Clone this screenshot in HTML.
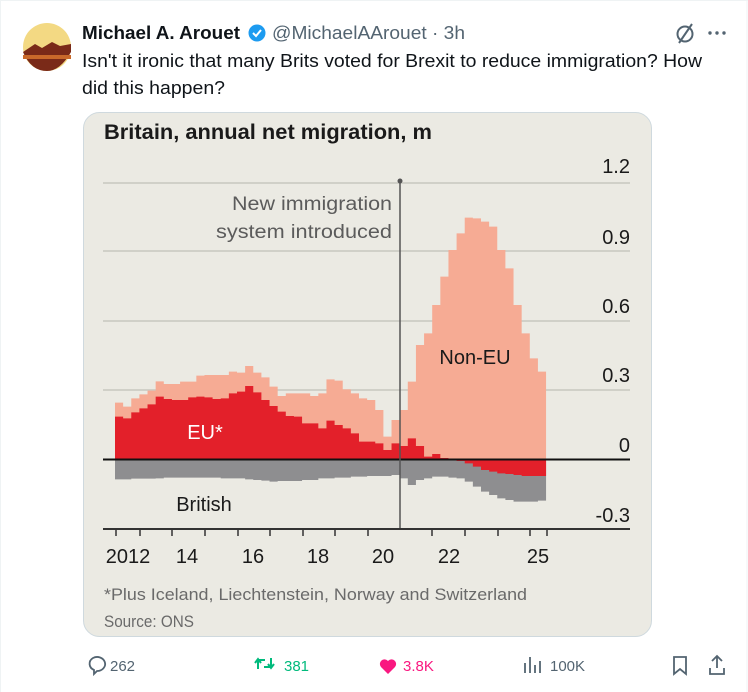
<!DOCTYPE html>
<html><head><meta charset="utf-8"><style>
body{margin:0;background:#fff;width:748px;height:692px;overflow:hidden;font-family:"Liberation Sans",sans-serif;}
</style></head><body>
<svg width="748" height="692" viewBox="0 0 748 692" xmlns="http://www.w3.org/2000/svg" style="position:absolute;left:0;top:0">
<line x1="0" y1="0.5" x2="748" y2="0.5" stroke="#eff3f4"/>
<line x1="747" y1="0" x2="747" y2="692" stroke="#eff3f4"/>
<line x1="0.5" y1="0" x2="0.5" y2="692" stroke="#eff3f4"/>
<circle cx="47" cy="47" r="24" fill="#f3d983"/>
<path d="M23 52 L35 44 L42 48 L52 42 L60 46 L71 44 L71 52 Q60 71 47 71 Q31 71 23 52Z" fill="#7a2a18"/>
<rect x="23" y="55" width="48" height="4" fill="#c9692a"/>
<text x="82" y="39" font-size="18" font-weight="bold" fill="#0f1419" textLength="158" lengthAdjust="spacingAndGlyphs">Michael A. Arouet</text>
<circle cx="257" cy="33" r="8.5" fill="#1d9bf0"/>
<path d="M253 33 l3 3 l5 -6" stroke="#fff" stroke-width="2" fill="none"/>
<text x="272" y="39" font-size="18" fill="#536471" textLength="193" lengthAdjust="spacingAndGlyphs">@MichaelAArouet · 3h</text>
<text x="82" y="67" font-size="18" fill="#0f1419" textLength="620" lengthAdjust="spacingAndGlyphs">Isn't it ironic that many Brits voted for Brexit to reduce immigration? How</text>
<text x="82" y="94" font-size="18" fill="#0f1419" textLength="143" lengthAdjust="spacingAndGlyphs">did this happen?</text>
<circle cx="685" cy="34" r="7.5" stroke="#536471" stroke-width="2" fill="none"/>
<line x1="679" y1="43" x2="692" y2="24" stroke="#536471" stroke-width="2"/>
<circle cx="710" cy="33" r="1.7" fill="#536471"/><circle cx="717" cy="33" r="1.7" fill="#536471"/><circle cx="724" cy="33" r="1.7" fill="#536471"/>
<rect x="83.5" y="112.5" width="568" height="524" rx="16" fill="#ebeae3" stroke="#cfd9de"/>
<text x="104" y="139" font-size="21" font-weight="bold" fill="#1a1a1a" textLength="328" lengthAdjust="spacingAndGlyphs">Britain, annual net migration, m</text>
<g stroke="#c8c7c0" stroke-width="1.5">
<line x1="103" y1="183" x2="630" y2="183"/>
<line x1="103" y1="251" x2="630" y2="251"/>
<line x1="103" y1="321" x2="630" y2="321"/>
<line x1="103" y1="390" x2="630" y2="390"/>
</g>
<g font-size="20" fill="#1a1a1a" text-anchor="end">
<text x="630" y="173">1.2</text>
<text x="630" y="244">0.9</text>
<text x="630" y="313">0.6</text>
<text x="630" y="382">0.3</text>
<text x="630" y="452">0</text>
<text x="630" y="522">-0.3</text>
</g>
<g transform="translate(100,180) scale(0.33333)">
<path fill="#f6ab94" d="M45 838 V668 h24.4 V680 h24.4 V655 h24.4 V643 h24.4 V632 h24.4 V604 h24.4 V612 h24.4 V612 h24.4 V605 h24.4 V605 h24.4 V587 h24.4 V585 h24.4 V585 h24.4 V585 h24.4 V575 h24.4 V578 h24.4 V558 h24.4 V578 h24.4 V592 h24.4 V620 h24.4 V648 h24.4 V640 h24.4 V640 h24.4 V640 h24.4 V648 h24.4 V640 h24.4 V598 h24.4 V602 h24.4 V628 h24.4 V640 h24.4 V655 h24.4 V660 h24.4 V690 h24.4 V770 h24.4 V720 h24.4 V690 h24.4 V605 h24.4 V495 h24.4 V460 h24.4 V375 h24.4 V290 h24.4 V210 h24.4 V160 h24.4 V113 h24.4 V115 h24.4 V125 h24.4 V140 h24.4 V210 h24.4 V265 h24.4 V375 h24.4 V460 h24.4 V535 h24.4 V575 h24.4 V838 Z"/>
<path fill="#e3202a" d="M45 838 V710 h24.4 V715 h24.4 V697 h24.4 V685 h24.4 V673 h24.4 V650 h24.4 V657 h24.4 V660 h24.4 V660 h24.4 V652 h24.4 V650 h24.4 V652 h24.4 V657 h24.4 V655 h24.4 V640 h24.4 V635 h24.4 V618 h24.4 V637 h24.4 V660 h24.4 V678 h24.4 V695 h24.4 V708 h24.4 V710 h24.4 V730 h24.4 V730 h24.4 V745 h24.4 V722 h24.4 V735 h24.4 V745 h24.4 V760 h24.4 V785 h24.4 V785 h24.4 V790 h24.4 V810 h24.4 V790 h24.4 V798 h24.4 V775 h24.4 V798 h24.4 V830 h24.4 V822 h24.4 V834 h24.4 V838 Z"/>
<path fill="#8e8e90" d="M45 838 V898 h24.4 V898 h24.4 V896 h24.4 V896 h24.4 V896 h24.4 V895 h24.4 V893 h24.4 V893 h24.4 V893 h24.4 V893 h24.4 V893 h24.4 V893 h24.4 V893 h24.4 V895 h24.4 V895 h24.4 V895 h24.4 V898 h24.4 V900 h24.4 V902 h24.4 V905 h24.4 V903 h24.4 V903 h24.4 V903 h24.4 V900 h24.4 V900 h24.4 V895 h24.4 V895 h24.4 V893 h24.4 V893 h24.4 V890 h24.4 V890 h24.4 V888 h24.4 V888 h24.4 V888 h24.4 V885 h24.4 V895 h24.4 V915 h24.4 V900 h24.4 V895 h24.4 V890 h24.4 V890 h24.4 V893 h24.4 V895 h24.4 V905 h24.4 V920 h24.4 V935 h24.4 V945 h24.4 V955 h24.4 V960 h24.4 V965 h24.4 V965 h24.4 V965 h24.4 V962 h24.4 V838 Z"/>
<path fill="#e3202a" d="M1069.8 838 V843 h24.4 V850 h24.4 V860 h24.4 V870 h24.4 V875 h24.4 V880 h24.4 V882 h24.4 V885 h24.4 V888 h24.4 V888 h24.4 V888 h24.4 V838 Z"/>
</g>
<line x1="103" y1="459.5" x2="630" y2="459.5" stroke="#111" stroke-width="2"/>
<line x1="400" y1="181" x2="400" y2="529" stroke="#555" stroke-width="1.5"/>
<circle cx="400" cy="181" r="2.5" fill="#555"/>
<line x1="103" y1="529" x2="630" y2="529" stroke="#333" stroke-width="2"/>
<g stroke="#333" stroke-width="1.5">
<line x1="116" y1="529" x2="116" y2="536"/><line x1="140" y1="529" x2="140" y2="536"/><line x1="172" y1="529" x2="172" y2="536"/><line x1="205" y1="529" x2="205" y2="536"/><line x1="238" y1="529" x2="238" y2="536"/><line x1="270" y1="529" x2="270" y2="536"/><line x1="303" y1="529" x2="303" y2="536"/><line x1="335" y1="529" x2="335" y2="536"/><line x1="368" y1="529" x2="368" y2="536"/><line x1="432" y1="529" x2="432" y2="536"/><line x1="465" y1="529" x2="465" y2="536"/><line x1="498" y1="529" x2="498" y2="536"/><line x1="530" y1="529" x2="530" y2="536"/><line x1="547" y1="529" x2="547" y2="536"/>
</g>
<g font-size="20" fill="#1a1a1a" text-anchor="middle">
<text x="128" y="563">2012</text><text x="187" y="563">14</text><text x="253" y="563">16</text><text x="318" y="563">18</text><text x="383" y="563">20</text><text x="449" y="563">22</text><text x="538" y="563">25</text>
</g>
<g font-size="19" fill="#5b5b5b" text-anchor="end">
<text x="392" y="210" textLength="160" lengthAdjust="spacingAndGlyphs">New immigration</text>
<text x="392" y="238" textLength="176" lengthAdjust="spacingAndGlyphs">system introduced</text>
</g>
<text x="475" y="364" font-size="20" fill="#1a1a1a" text-anchor="middle">Non-EU</text>
<text x="205" y="439" font-size="20" fill="#fff" text-anchor="middle">EU*</text>
<text x="204" y="511" font-size="20" fill="#1a1a1a" text-anchor="middle">British</text>
<text x="104" y="600" font-size="17" fill="#6a6a6a" textLength="423" lengthAdjust="spacingAndGlyphs">*Plus Iceland, Liechtenstein, Norway and Switzerland</text>
<text x="104" y="627" font-size="17" fill="#6a6a6a" textLength="90" lengthAdjust="spacingAndGlyphs">Source: ONS</text>
<path d="M93 658 a8 7 0 1 1 4 13 l-3 3 v-4 a8 7 0 0 1 -1 -12z" fill="none" stroke="#536471" stroke-width="1.8"/>
<text x="110" y="671" font-size="15" fill="#536471">262</text>
<path d="M258 669 v-9 h7 M255 663 l3 -4 l3 4 M271 658 v9 h-7 M268 664 l3 4 l3 -4" fill="none" stroke="#00ba7c" stroke-width="2"/>
<text x="284" y="671" font-size="15" fill="#00ba7c">381</text>
<path d="M388 674 l-7 -7 a4 4 0 0 1 7 -6 a4 4 0 0 1 7 6z" fill="#f91880"/>
<text x="403" y="671" font-size="15" fill="#f91880">3.8K</text>
<g stroke="#536471" stroke-width="1.8"><line x1="525" y1="663" x2="525" y2="673"/><line x1="530" y1="657" x2="530" y2="673"/><line x1="535" y1="665" x2="535" y2="673"/><line x1="540" y1="661" x2="540" y2="673"/></g>
<text x="550" y="671" font-size="15" fill="#536471">100K</text>
<path d="M674 657 h12 v17 l-6 -5 l-6 5z" fill="none" stroke="#536471" stroke-width="1.8"/>
<path d="M717 668 v-11 M712 661 l5 -5 l5 5 M710 668 v6 h14 v-6" fill="none" stroke="#536471" stroke-width="1.8"/>
</svg>
</body></html>
